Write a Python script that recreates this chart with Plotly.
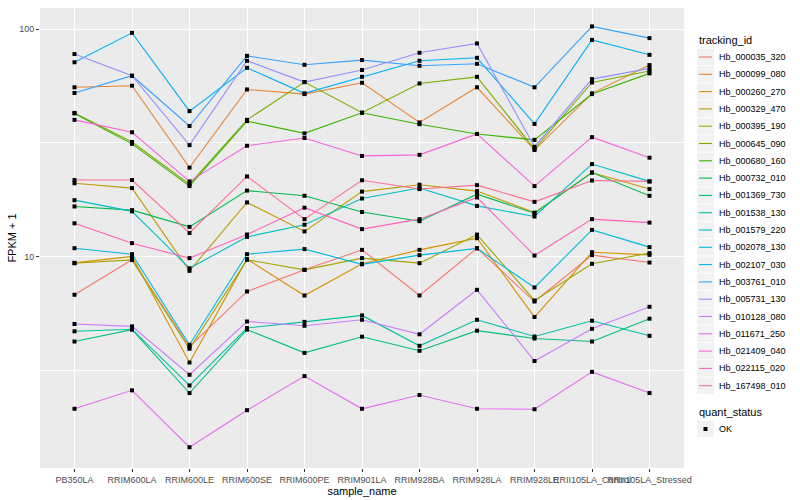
import plotly.graph_objects as go

sample_names = ["PB350LA", "RRIM600LA", "RRIM600LE", "RRIM600SE", "RRIM600PE",
                "RRIM901LA", "RRIM928BA", "RRIM928LA", "RRIM928LE",
                "RRII105LA_Control", "RRII105LA_Stressed"]

Hb_000035_320 = [6.79, 9.67, 4.01, 7.02, 8.74, 10.70, 6.74, 10.88, 6.34, 10.14, 9.41]
Hb_000099_080 = [55.5, 56.4, 24.6, 54.3, 51.8, 58.1, 38.9, 55.5, 29.4, 52.2, 69.5]
Hb_000260_270 = [9.38, 10.02, 3.42, 9.74, 6.74, 9.29, 10.70, 12.04, 5.42, 10.45, 10.17]
Hb_000329_470 = [21.0, 20.0, 8.65, 17.3, 12.9, 19.3, 20.7, 19.4, 15.6, 23.4, 19.8]
Hb_000395_190 = [9.34, 9.67, 3.93, 9.67, 8.74, 9.84, 9.35, 12.49, 6.41, 9.29, 10.35]
Hb_000645_090 = [42.8, 31.9, 20.8, 39.9, 58.5, 42.9, 57.7, 61.7, 29.7, 58.3, 65.4]
Hb_000680_160 = [42.6, 31.3, 20.4, 39.4, 34.8, 42.9, 38.2, 34.6, 32.6, 51.8, 63.9]
Hb_000732_010 = [16.6, 16.0, 13.5, 19.5, 18.5, 15.7, 14.3, 18.8, 15.5, 23.4, 18.5]
Hb_001369_730 = [4.23, 4.77, 2.51, 4.77, 3.77, 4.44, 3.85, 4.72, 4.36, 4.23, 5.33]
Hb_001538_130 = [4.69, 4.79, 2.71, 4.85, 5.16, 5.51, 4.05, 5.27, 4.45, 5.22, 4.48]
Hb_001579_220 = [17.7, 15.8, 8.88, 12.2, 13.8, 18.0, 20.0, 16.7, 15.0, 25.5, 21.4]
Hb_002078_130 = [10.88, 10.24, 4.09, 10.24, 10.78, 9.24, 10.14, 10.86, 7.31, 13.1, 11.0]
Hb_002107_030 = [71.5, 96.3, 43.6, 67.6, 52.2, 61.7, 72.6, 74.8, 38.3, 89.7, 77.1]
Hb_003761_010 = [52.4, 62.4, 37.5, 76.3, 69.7, 73.1, 69.0, 70.4, 55.5, 102.8, 91.3]
Hb_005731_130 = [77.7, 62.4, 30.9, 72.6, 58.5, 66.1, 78.7, 86.5, 30.4, 60.3, 67.2]
Hb_010128_080 = [5.05, 4.93, 3.02, 5.18, 4.96, 5.27, 4.55, 7.14, 3.47, 4.81, 6.01]
Hb_011671_250 = [2.14, 2.58, 1.45, 2.11, 2.98, 2.14, 2.46, 2.14, 2.13, 3.11, 2.51]
Hb_021409_040 = [39.9, 35.2, 21.4, 30.7, 33.2, 27.7, 28.0, 34.6, 20.4, 33.5, 27.2]
Hb_022115_020 = [14.0, 11.45, 9.84, 12.5, 16.4, 13.2, 14.6, 18.2, 10.1, 14.6, 14.1]
Hb_167498_010 = [21.7, 21.7, 12.7, 22.5, 14.6, 21.65, 19.8, 20.6, 17.4, 21.6, 21.4]

tracking_ids = ["Hb_000035_320", "Hb_000099_080", "Hb_000260_270", "Hb_000329_470",
                "Hb_000395_190", "Hb_000645_090", "Hb_000680_160", "Hb_000732_010",
                "Hb_001369_730", "Hb_001538_130", "Hb_001579_220", "Hb_002078_130",
                "Hb_002107_030", "Hb_003761_010", "Hb_005731_130", "Hb_010128_080",
                "Hb_011671_250", "Hb_021409_040", "Hb_022115_020", "Hb_167498_010"]

series_values = [Hb_000035_320, Hb_000099_080, Hb_000260_270, Hb_000329_470,
                 Hb_000395_190, Hb_000645_090, Hb_000680_160, Hb_000732_010,
                 Hb_001369_730, Hb_001538_130, Hb_001579_220, Hb_002078_130,
                 Hb_002107_030, Hb_003761_010, Hb_005731_130, Hb_010128_080,
                 Hb_011671_250, Hb_021409_040, Hb_022115_020, Hb_167498_010]

quant_status = ["OK"]

colors = ["#F8766D", "#EA8331", "#D89000", "#C09B00", "#A3A500", "#7CAE00",
          "#39B600", "#00BB4E", "#00BF7D", "#00C1A3", "#00BFC4", "#00BAE0",
          "#00B0F6", "#35A2FF", "#9590FF", "#C77CFF", "#E76BF3", "#FA62DB",
          "#FF62BC", "#FF6C91"]

FONT = "Liberation Sans, Arial, sans-serif"
W, H = 800, 500
ML, MR, MT, MB = 40, 116, 8, 32
PW, PH = W - ML - MR, H - MT - MB


def px(x):
    return (x - ML) / PW


def py(y):
    return (H - MB - y) / PH


fig = go.Figure()
for name, vals, col in zip(tracking_ids, series_values, colors):
    fig.add_trace(go.Scatter(x=sample_names, y=vals, mode="lines", name=name,
                             showlegend=False,
                             line=dict(color=col, width=1.1)))
for name, vals in zip(tracking_ids, series_values):
    fig.add_trace(go.Scatter(x=sample_names, y=vals, mode="markers",
                             name=quant_status[0], showlegend=False,
                             marker=dict(symbol="square", size=4, color="black",
                                         line=dict(width=0))))

# hand-built ggplot-style legends
shapes = []
annotations = []
KEY_X0, KEY_X1, TXT_X = 697, 714, 717
STEP = 17.3
annotations.append(dict(x=px(KEY_X0), y=py(40), xref="paper", yref="paper",
                        text="tracking_id", showarrow=False, xanchor="left",
                        yanchor="middle", font=dict(size=11, color="black")))
for i, (name, col) in enumerate(zip(tracking_ids, colors)):
    yc = 57 + i * STEP
    shapes.append(dict(type="rect", xref="paper", yref="paper",
                       x0=px(KEY_X0), x1=px(KEY_X1),
                       y0=py(yc - STEP / 2 + 0.5), y1=py(yc + STEP / 2 - 0.5),
                       fillcolor="#F2F2F2", line=dict(width=0), layer="above"))
    shapes.append(dict(type="line", xref="paper", yref="paper",
                       x0=px(KEY_X0 + 2), x1=px(KEY_X1 - 2), y0=py(yc), y1=py(yc),
                       line=dict(color=col, width=1.1), layer="above"))
    annotations.append(dict(x=px(TXT_X), y=py(yc), xref="paper", yref="paper",
                            text=name, showarrow=False, xanchor="left",
                            yanchor="middle", font=dict(size=9, color="black")))

annotations.append(dict(x=px(KEY_X0), y=py(412), xref="paper", yref="paper",
                        text="quant_status", showarrow=False, xanchor="left",
                        yanchor="middle", font=dict(size=11, color="black")))
yok = 429
shapes.append(dict(type="rect", xref="paper", yref="paper",
                   x0=px(KEY_X0), x1=px(KEY_X1),
                   y0=py(yok - STEP / 2 + 0.5), y1=py(yok + STEP / 2 - 0.5),
                   fillcolor="#F2F2F2", line=dict(width=0), layer="above"))
shapes.append(dict(type="rect", xref="paper", yref="paper",
                   x0=px(703.5), x1=px(707.5), y0=py(yok - 2), y1=py(yok + 2),
                   fillcolor="black", line=dict(width=0), layer="above"))
annotations.append(dict(x=px(TXT_X), y=py(yok), xref="paper", yref="paper",
                        text=quant_status[0], showarrow=False, xanchor="left",
                        yanchor="middle", font=dict(size=9, color="black")))

fig.update_layout(
    width=W, height=H,
    margin=dict(l=ML, r=MR, t=MT, b=MB, autoexpand=False),
    paper_bgcolor="white", plot_bgcolor="#EBEBEB",
    font=dict(family=FONT, size=9, color="black"),
    showlegend=False,
    shapes=shapes, annotations=annotations,
)

fig.update_xaxes(
    type="category", categoryorder="array", categoryarray=sample_names,
    range=[-0.6, 10.6], showgrid=True, gridcolor="white", gridwidth=1.1,
    zeroline=False, ticks="outside", ticklen=3, tickcolor="#333333",
    tickangle=0, automargin=False,
    tickfont=dict(size=9, color="#4D4D4D"),
    title=dict(text="sample_name", font=dict(size=11), standoff=0),
)
fig.update_yaxes(
    type="log", range=[0.07, 2.093], tickmode="array",
    tickvals=[10, 100], ticktext=["10", "100"], automargin=False,
    showgrid=True, gridcolor="white", gridwidth=1.1, zeroline=False,
    ticks="outside", ticklen=3, tickcolor="#333333",
    tickfont=dict(size=9, color="#4D4D4D"),
    minor=dict(tickmode="array", tickvals=[3.1623, 31.623], showgrid=True,
               gridcolor="white", gridwidth=0.55, ticks=""),
    title=dict(text="FPKM + 1", font=dict(size=11), standoff=0),
)

fig.write_html("out.html",
               config={"displayModeBar": False},
               post_script="document.body.style.margin='0';"
                           "document.body.style.overflow='hidden';")
